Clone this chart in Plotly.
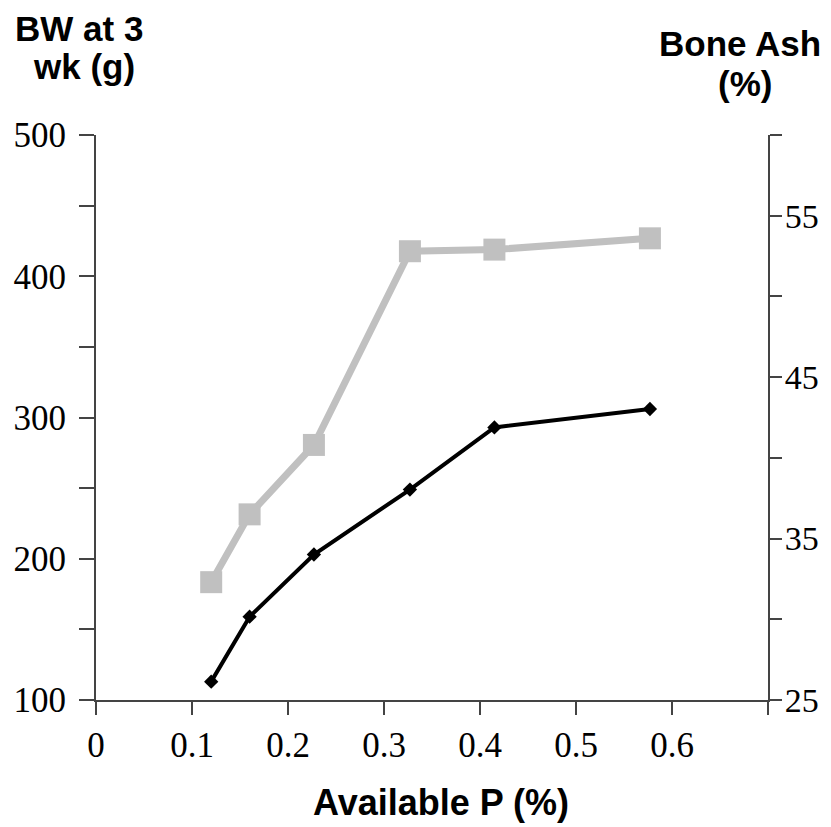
import plotly.graph_objects as go

# Data
avail_p = [0.12, 0.16, 0.227, 0.327, 0.415, 0.577]
bw_3wk = [113, 159, 203, 249, 293, 306]          # left axis, g
bone_ash = [32.3, 36.5, 40.8, 52.8, 52.9, 53.6]  # right axis, %

x_ticks = [0, 0.1, 0.2, 0.3, 0.4, 0.5, 0.6, 0.7]
x_labels = ["0", "0.1", "0.2", "0.3", "0.4", "0.5", "0.6", ""]
y_ticks = [100, 150, 200, 250, 300, 350, 400, 450, 500]
y_labels = ["100", "", "200", "", "300", "", "400", "", "500"]
y2_ticks = [25, 30, 35, 40, 45, 50, 55, 60]
y2_labels = ["25", "", "35", "", "45", "", "55", ""]

W, H = 831, 827
ML, MT = 96, 135
MR = W - 768
MB = H - 700
PW, PH = W - ML - MR, H - MT - MB

def px(xp):
    return (xp - ML) / PW

def py(yp):
    return (H - MB - yp) / PH

fig = go.Figure()
fig.add_trace(go.Scatter(
    x=avail_p, y=bw_3wk, mode="lines+markers", name="BW",
    line=dict(color="black", width=4),
    marker=dict(symbol="diamond", size=11, color="black"),
    yaxis="y"))
fig.add_trace(go.Scatter(
    x=avail_p, y=bone_ash, mode="lines+markers", name="Bone Ash",
    line=dict(color="#c0c0c0", width=7),
    marker=dict(symbol="square", size=22, color="#c0c0c0"),
    yaxis="y2"))

tickfont = dict(family="Liberation Serif", size=35, color="black")
axcol = "#444444"

fig.update_layout(
    width=W, height=H,
    margin=dict(l=ML, r=MR, t=MT, b=MB),
    paper_bgcolor="white", plot_bgcolor="white",
    showlegend=False,
    xaxis=dict(range=[0, 0.7], tickvals=x_ticks, ticktext=x_labels,
               showgrid=False, zeroline=False, showline=True,
               linecolor=axcol, linewidth=2, ticks="outside",
               ticklen=13, tickwidth=2, tickcolor=axcol, tickfont=tickfont),
    yaxis=dict(range=[100, 500], tickvals=y_ticks, ticktext=y_labels,
               showgrid=False, zeroline=False, showline=True,
               linecolor=axcol, linewidth=2, ticks="outside",
               ticklen=15, tickwidth=2, tickcolor=axcol, tickfont=tickfont,
               ticklabelstandoff=6),
    yaxis2=dict(range=[25, 60], tickvals=y2_ticks, ticktext=y2_labels,
                overlaying="y", side="right",
                showgrid=False, zeroline=False, showline=True,
                linecolor=axcol, linewidth=2, ticks="outside",
                ticklen=12, tickwidth=2, tickcolor=axcol,
                tickfont=dict(family="Liberation Serif", size=34,
                              color="black"),
                ticklabelstandoff=-4),
)

def ann(text, xp, yp, size):
    fig.add_annotation(text="<b>%s</b>" % text, x=px(xp), y=py(yp),
                       xref="paper", yref="paper", showarrow=False,
                       xanchor="center", yanchor="middle",
                       font=dict(family="Liberation Sans", size=size,
                                 color="black"))

ann("BW at 3", 79, 28, 35)
ann("wk (g)", 84, 66, 35)
ann("Bone Ash", 740, 43, 35)
ann("(%)", 745, 84, 35)
ann("Available P (%)", 441, 802, 36)

fig.write_html(
    "out.html",
    config={"displayModeBar": False},
    post_script="document.body.style.margin='0';"
                "document.body.style.overflow='hidden';")
